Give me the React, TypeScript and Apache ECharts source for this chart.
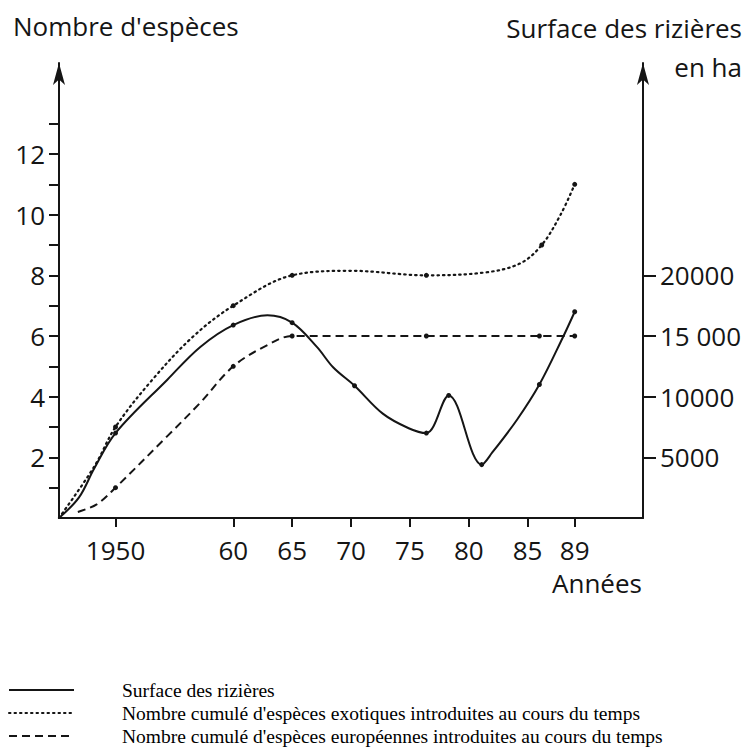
import React, { useEffect, useRef } from "react";
import * as echarts from "echarts";

// ---- axis ticks / labels ----
const xTickYears = [1950, 1960, 1965, 1970, 1975, 1980, 1985, 1989];
const xTickLabels = ["1950", "60", "65", "70", "75", "80", "85", "89"];
const leftTickValues = [1, 2, 3, 4, 5, 6, 7, 8, 9, 10, 11, 12, 13];
const leftLabelValues = [2, 4, 6, 8, 10, 12];
const rightTickValues = [5000, 10000, 15000, 20000];
const rightTickLabels = ["5000", "10000", "15 000", "20000"];

// ---- series: surface des rizières (ha, right axis) ----
const rizYears = [1945.2, 1946.9, 1948.2, 1950, 1954.4, 1957.2, 1960, 1962.9, 1965, 1967.1, 1968.5, 1970.3, 1972.7, 1974.9, 1976.4, 1978.3, 1981.1, 1982.0, 1984.1, 1986, 1988, 1989];
const rizValues = [0, 1700, 4100, 7000, 11400, 14100, 15900, 16700, 16100, 14100, 12400, 10900, 8600, 7400, 7000, 10100, 4400, 5400, 8100, 11000, 14900, 17000];
const rizMarked = [0, 0, 0, 1, 0, 0, 1, 0, 1, 0, 0, 1, 0, 0, 1, 1, 1, 0, 0, 1, 0, 1];

// ---- series: espèces exotiques (cumul, left axis) ----
const exoYears = [1945.2, 1948.2, 1950, 1953, 1956.5, 1960, 1965, 1970, 1976.4, 1981.5, 1984.4, 1986.2, 1987.8, 1989];
const exoValues = [0, 1.7, 3.0, 4.5, 5.95, 7.0, 8.0, 8.15, 8.0, 8.1, 8.4, 9.0, 10.0, 11.0];
const exoMarked = [0, 0, 1, 0, 0, 1, 1, 0, 1, 0, 0, 1, 0, 1];

// ---- series: espèces européennes (cumul, left axis) ----
const euYears = [1946.8, 1948.4, 1950, 1954.4, 1957.2, 1960, 1962.9, 1965, 1976.4, 1986, 1989];
const euValues = [0.2, 0.45, 1.0, 2.7, 3.8, 5.0, 5.7, 6.0, 6.0, 6.0, 6.0];
const euMarked = [0, 0, 1, 0, 0, 1, 0, 1, 1, 1, 1];

const seriesNames = [
  "Surface des rizières",
  "Nombre cumulé d'espèces exotiques introduites au cours du temps",
  "Nombre cumulé d'espèces européennes introduites au cours du temps",
];

const FONT = "'Open Sans', 'Liberation Sans', sans-serif";
const SERIF = "'Liberation Serif', 'DejaVu Serif', serif";
const INK = "#151515";

function build(years: number[], values: number[], marked: number[]) {
  return years.map((y, i) => ({
    value: [y, values[i]],
    symbol: marked[i] ? "circle" : "none",
    symbolSize: 5,
  }));
}

export default function App() {
  const ref = useRef<HTMLDivElement>(null);
  useEffect(() => {
    if (!ref.current) return;
    const chart = echarts.init(ref.current, undefined, { renderer: "svg" });
    const axisLabelBase = { color: INK, fontFamily: FONT, fontSize: 26 };
    chart.setOption({
      animation: false,
      backgroundColor: "#ffffff",
      grid: { left: 59, right: 102, top: 63, bottom: 229, containLabel: false, outerBoundsMode: "none" },
      xAxis: {
        type: "value",
        min: 1945.2,
        max: 1994.8,
        axisLine: { show: true, lineStyle: { color: INK, width: 2 } },
        axisTick: { show: true, customValues: xTickYears, length: 9, lineStyle: { color: INK, width: 2 } },
        axisLabel: {
          ...axisLabelBase,
          customValues: xTickYears,
          margin: 19,
          formatter: (v: number) => {
            const i = xTickYears.indexOf(Math.round(v));
            return i >= 0 ? xTickLabels[i] : "";
          },
        },
        splitLine: { show: false },
      },
      yAxis: [
        {
          type: "value",
          position: "left",
          min: 0,
          max: 15,
          interval: 1,
          axisLine: { show: true, symbol: ["none", "arrow"], symbolSize: [9, 22], lineStyle: { color: INK, width: 2 } },
          axisTick: { show: true, customValues: leftTickValues, length: 10, lineStyle: { color: INK, width: 2 } },
          axisLabel: { ...axisLabelBase, customValues: leftLabelValues, margin: 14 },
          splitLine: { show: false },
        },
        {
          type: "value",
          position: "right",
          min: 0,
          max: 37500,
          interval: 2500,
          axisLine: { show: true, symbol: ["none", "arrow"], symbolSize: [9, 22], lineStyle: { color: INK, width: 2 } },
          axisTick: { show: true, customValues: rightTickValues, length: 13, lineStyle: { color: INK, width: 2 } },
          axisLabel: {
            ...axisLabelBase,
            customValues: rightTickValues,
            margin: 17,
            formatter: (v: number) => {
              const i = rightTickValues.indexOf(Math.round(v));
              return i >= 0 ? rightTickLabels[i] : "";
            },
          },
          splitLine: { show: false },
        },
      ],
      legend: {
        show: true,
        orient: "vertical",
        left: 3,
        top: 675,
        height: 72,
        itemWidth: 65,
        itemHeight: 14,
        itemGap: 3,
        selectedMode: false,
        data: seriesNames,
        itemStyle: { color: "rgba(0,0,0,0)", borderColor: "rgba(0,0,0,0)", borderWidth: 0 },
        textStyle: { color: "#000", fontFamily: SERIF, fontSize: 19.5, padding: [0, 0, 0, 43] },
      },
      series: [
        {
          name: seriesNames[0],
          type: "line",
          yAxisIndex: 1,
          smooth: 0.35,
          symbol: "none",
          data: build(rizYears, rizValues, rizMarked),
          lineStyle: { color: INK, width: 2, type: "solid" },
          itemStyle: { color: INK },
        },
        {
          name: seriesNames[1],
          type: "line",
          yAxisIndex: 0,
          smooth: 0.35,
          symbol: "none",
          data: build(exoYears, exoValues, exoMarked),
          lineStyle: { color: INK, width: 2.2, type: [1.5, 4], cap: "round" },
          itemStyle: { color: INK },
        },
        {
          name: seriesNames[2],
          type: "line",
          yAxisIndex: 0,
          smooth: 0.35,
          symbol: "none",
          data: build(euYears, euValues, euMarked),
          lineStyle: { color: INK, width: 2, type: [8, 5] },
          itemStyle: { color: INK },
        },
      ],
      graphic: [
        {
          type: "text",
          left: 13,
          top: 13,
          style: { text: "Nombre d'espèces", fill: INK, font: `26px ${FONT}` },
        },
        {
          type: "text",
          right: 3,
          top: 15,
          style: { text: "Surface des rizières", fill: INK, font: `26px ${FONT}` },
        },
        {
          type: "text",
          right: 3,
          top: 54,
          style: { text: "en ha", fill: INK, font: `26px ${FONT}` },
        },
        {
          type: "text",
          left: 552,
          top: 570,
          style: { text: "Années", fill: INK, font: `26px ${FONT}` },
        },
      ],
    });
    return () => chart.dispose();
  }, []);
  return (
    <div
      ref={ref}
      style={{ position: "absolute", left: 0, top: 0, width: 745, height: 747, background: "#fff" }}
    />
  );
}
